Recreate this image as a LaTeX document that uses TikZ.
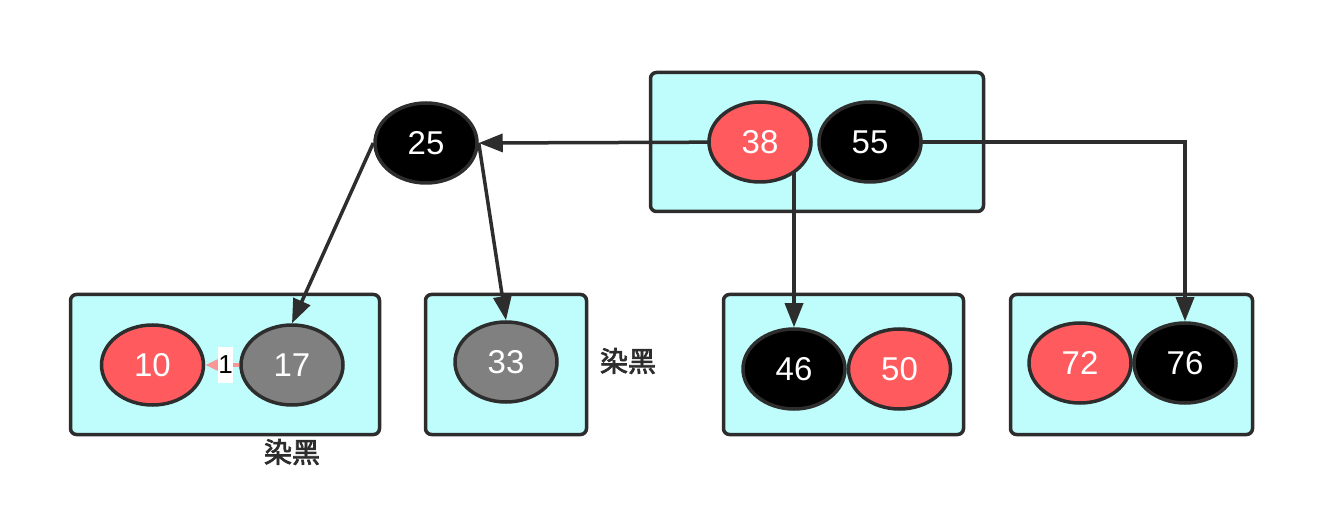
\documentclass[tikz,border=0pt]{standalone}
\usepackage{fontspec}
\setmainfont{Liberation Sans}
\newfontfamily\cjk{Noto Sans CJK SC}[FakeBold=2.5]
\usetikzlibrary{arrows.meta,shapes.geometric}
\definecolor{boxcyan}{RGB}{190,253,251}
\definecolor{rbred}{RGB}{255,91,95}
\definecolor{rbgray}{RGB}{128,128,128}
\definecolor{stroke}{RGB}{45,45,45}
\definecolor{pinkline}{RGB}{250,150,150}
\pgfdeclarelayer{bg}
\pgfdeclarelayer{edges}
\pgfsetlayers{bg,edges,main}
\tikzset{
  boxnode/.style={draw=stroke, fill=boxcyan, line width=3.5pt, rounded corners=6pt, rectangle, inner sep=0pt},
  keynode/.style={ellipse, draw=stroke, line width=3.5pt, minimum width=102pt, minimum height=80pt, inner sep=0pt, text=white, font=\fontsize{33}{38}\selectfont},
  redk/.style={keynode, fill=rbred},
  blackk/.style={keynode, fill=black},
  grayk/.style={keynode, fill=rbgray},
  conn/.style={draw=stroke, line width=3.5pt, -{Triangle[length=24pt,width=18pt]}},
  lbl/.style={text=stroke, font=\cjk\fontsize{28}{32}\selectfont},
}
\begin{document}
\begin{tikzpicture}[x=1pt,y=-1pt]
\useasboundingbox (0,0) rectangle (1324,518);
\begin{pgfonlayer}{bg}
\node[boxnode, minimum width=333pt, minimum height=139pt] (btop) at (817,142) {};
\node[boxnode, minimum width=309pt, minimum height=140pt] (b1) at (225,364.5) {};
\node[boxnode, minimum width=161pt, minimum height=140pt] (b2) at (506,364.5) {};
\node[boxnode, minimum width=240pt, minimum height=140pt] (b3) at (843.5,364.5) {};
\node[boxnode, minimum width=242pt, minimum height=140pt] (b4) at (1131.5,364.5) {};
\end{pgfonlayer}
\node[blackk] (n25) at (426,143) {25};
\node[redk] (n38) at (760,142) {38};
\node[blackk] (n55) at (870,142) {55};
\node[redk] (n10) at (152.5,365) {10};
\node[grayk] (n17) at (292,365) {17};
\node[grayk] (n33) at (506,362) {33};
\node[blackk] (n46) at (794,369) {46};
\node[redk] (n50) at (899.5,369) {50};
\node[redk] (n72) at (1080,363) {72};
\node[blackk] (n76) at (1185,363) {76};
\node[lbl] (l1) at (628,361) {染黑};
\node[lbl] (l2) at (292,452) {染黑};
\begin{pgfonlayer}{edges}
\draw[conn] (n38.center) -- (n25.east);
\draw[conn] (n46.north |- n38.center) -- (n46.north);
\draw[conn] (n55.center) -| (n76.north);
\end{pgfonlayer}
\draw[conn] (n25.west) -- (n17.north);
\draw[conn] (n25.east) -- (n33.north);
\draw[draw=pinkline, line width=3.5pt, -{Triangle[length=14pt,width=12pt]}] (n17.west) -- node[pos=0.4, fill=white, text=black, inner xsep=0pt, inner ysep=0pt, minimum height=36pt, font=\fontsize{26}{30}\selectfont] (one) {1} (n10.east);
\end{tikzpicture}
\end{document}
